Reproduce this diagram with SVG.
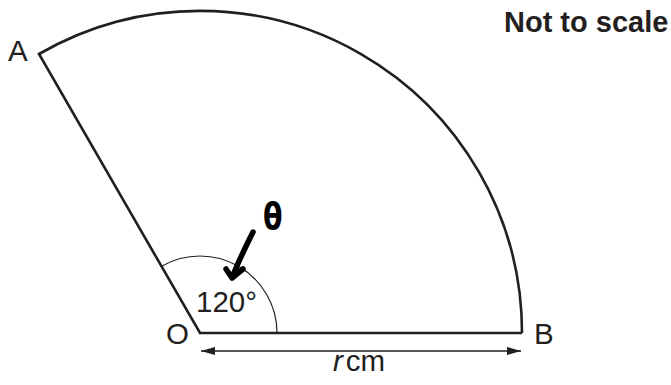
<svg xmlns="http://www.w3.org/2000/svg" width="671" height="385" viewBox="0 0 671 385">
<style>
.lbl{font-family:"Liberation Sans",Arial,sans-serif;font-size:29.5px;fill:#231f20}
.bold{font-weight:bold;font-size:29px}
.shape{fill:none;stroke:#231f20;stroke-width:2.6;stroke-linejoin:miter}
.thin{fill:none;stroke:#231f20;stroke-width:1.2}
.dim{fill:none;stroke:#231f20;stroke-width:1.5}
.hand{fill:none;stroke:#000;stroke-width:5.5;stroke-linecap:round;stroke-linejoin:round}
</style>
<defs>
<marker id="ah" viewBox="0 0 14 8" refX="14" refY="4" markerWidth="14" markerHeight="8" markerUnits="userSpaceOnUse" orient="auto-start-reverse">
<path d="M0,0 L14,4 L0,8 Z" fill="#231f20"/>
</marker>
</defs>
<rect width="671" height="385" fill="#fff"/>
<g id="sector">
<path class="shape" d="M 522 333 L 200 333 L 39 54 A 322 322 0 0 1 522 333"/>
<path class="thin" d="M 161.5 266.3 A 77 77 0 0 1 277 333"/>
</g>
<g id="connectors">
<line class="dim" x1="201" y1="351" x2="521" y2="351" marker-start="url(#ah)" marker-end="url(#ah)"/>
<path class="hand" d="M 253 232 C 246 246 238 262 232 278 M 226 269 L 232 278 L 243 269"/>
</g>
<g id="labels">
<text class="lbl" x="8" y="61">A</text>
<text class="lbl" x="166" y="344">O</text>
<text class="lbl" x="534" y="344">B</text>
<text class="lbl" x="196" y="312">120°</text>
<text class="lbl bold" x="504" y="32">Not to scale</text>
<text class="lbl" x="333" y="371"><tspan font-style="italic">r</tspan><tspan dx="3">cm</tspan></text>
<text x="0" y="0" font-family="DejaVu Sans,sans-serif" font-weight="bold" font-size="38" fill="#000" transform="translate(263 229) scale(0.75 1)">θ</text>
</g>
</svg>
